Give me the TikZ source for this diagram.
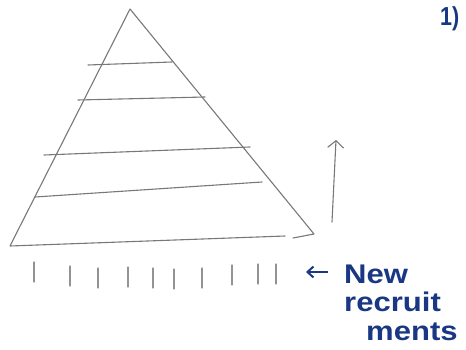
\documentclass[tikz,border=0pt]{standalone}
\usepackage{fontspec}
\setmainfont{Liberation Sans}
\usetikzlibrary{arrows.meta}
\definecolor{pencil}{RGB}{120,120,120}
\definecolor{ink}{RGB}{25,55,130}
\tikzset{
  pen/.style={draw=pencil, line width=1.1pt, line cap=round, line join=round},
  tick/.style={draw=pencil!80, line width=1.3pt, line cap=round},
  inktext/.style={text=ink, font=\fontsize{27}{30}\selectfont\bfseries, inner sep=0pt, anchor=base west, xscale=1.15},
  inkarrow/.style={draw=ink, line width=2pt, -{Straight Barb[length=6pt,width=11pt]}}
}
\begin{document}
\begin{tikzpicture}[x=1pt,y=-1pt]
\useasboundingbox (0,0) rectangle (466,350);
% pyramid
\coordinate (apex) at (130,9);
\coordinate (bl) at (10,246);
\coordinate (br) at (314,234);
\draw[pen] (285,236) -- (bl) -- (apex) -- (br) -- (293,238);
% levels
\draw[pen] (88,65) -- (172,62);
\draw[pen] (78,100) -- (205,97);
\draw[pen] (44,155) -- (250,147);
\draw[pen] (35,197) -- (262,182);
% upward arrow
\coordinate (ab) at (332,222);
\coordinate (at) at (336,140);
\draw[pen, -{Straight Barb[length=7pt,width=16pt]}] (ab) -- (at);
% ticks (new recruits)
\foreach \x/\t in {34/262,70/266,98/268,128/267,153/268,174/269,202/268,232/265,258/264,276/264}
  \draw[tick] (\x,\t) -- (\x,\t+20);
% labels
\node[inktext] (new) at (344,283) {New};
\node[inktext] (recruit) at (344,311) {recruit};
\node[inktext] (ments) at (366,340) {ments};
\coordinate (tip) at (306,272);
\draw[inkarrow] (328,272) -- (tip);
\node[inktext, font=\fontsize{26}{30}\selectfont\bfseries, xscale=0.72] (num) at (440,26) {1)};
\end{tikzpicture}
\end{document}
